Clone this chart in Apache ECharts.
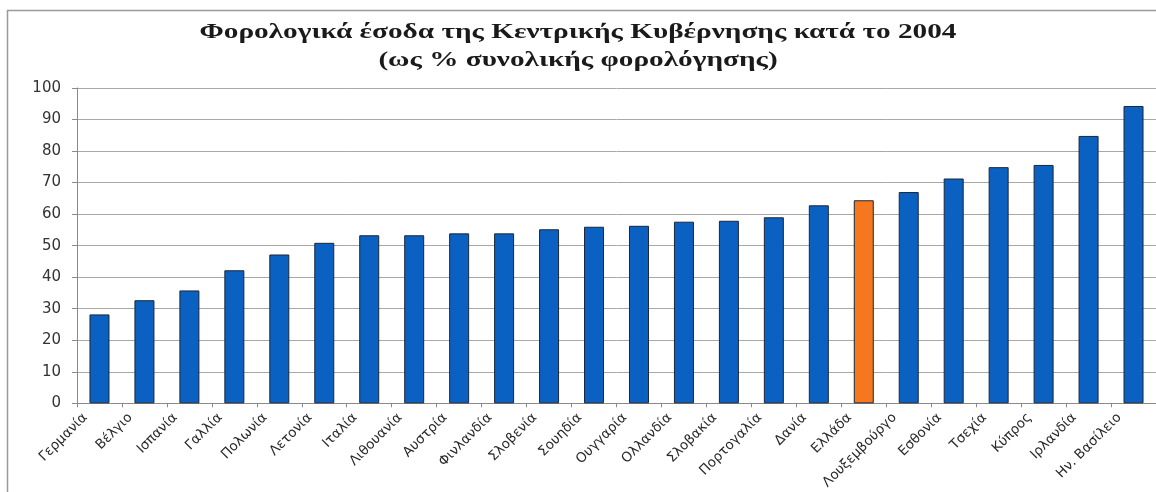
<!DOCTYPE html>
<html>
<head>
<meta charset="utf-8">
<script src="https://cdn.jsdelivr.net/npm/echarts@6/dist/echarts.min.js"></script>
<style>
  html, body { margin: 0; padding: 0; background: #ffffff; }
  #chart { width: 1156px; height: 492px; }
</style>
</head>
<body>
<div id="chart"></div>
<script>
// Central government tax revenue, 2004 (% of total taxation)
const titleLines = [
  'Φορολογικά έσοδα της Κεντρικής Κυβέρνησης κατά το 2004',
  '(ως % συνολικής φορολόγησης)'
];
const categories = [
  'Γερμανία', 'Βέλγιο', 'Ισπανία', 'Γαλλία', 'Πολωνία', 'Λετονία', 'Ιταλία',
  'Λιθουανία', 'Αυστρία', 'Φινλανδία', 'Σλοβενία', 'Σουηδία', 'Ουγγαρία',
  'Ολλανδία', 'Σλοβακία', 'Πορτογαλία', 'Δανία', 'Ελλάδα', 'Λουξεμβούργο',
  'Εσθονία', 'Τσεχία', 'Κύπρος', 'Ιρλανδία', 'Ην. Βασίλειο'
];
const values = [
  28.2, 32.7, 35.8, 42.2, 47.2, 50.9, 53.3,
  53.3, 53.9, 53.9, 55.2, 56.0, 56.3,
  57.6, 57.9, 59.0, 62.8, 64.4, 67.0,
  71.3, 74.9, 75.6, 84.8, 94.3
];
const highlighted = 'Ελλάδα';
const yTicks = { min: 0, max: 100, interval: 10 };

const BLUE = '#0a61c2';
const ORANGE = '#f5781e';
const W = 1156;

const chart = echarts.init(document.getElementById('chart'), null, { renderer: 'canvas' });

const barData = values.map((v, i) => ({
  value: v,
  itemStyle: { color: categories[i] === highlighted ? ORANGE : BLUE }
}));

// Title lines drawn as wide serif text, centred on the page
const titleStyle = {
  fontFamily: 'Liberation Serif',
  fontWeight: 'bold',
  fontSize: 22,
  fill: '#1a1a1a',
  align: 'center',
  verticalAlign: 'middle'
};
const titleGraphics = titleLines.map((line, i) => ({
  type: 'text',
  x: W / 2,
  y: 32 + i * 28,
  scaleX: 1.33,
  style: Object.assign({ text: line }, titleStyle),
  silent: true
}));

chart.setOption({
  backgroundColor: '#ffffff',
  animation: false,
  graphic: [{
    type: 'rect',
    shape: { x: 7.5, y: 10.5, width: 1160, height: 500 },
    style: { fill: 'none', stroke: '#9a9a9a', lineWidth: 1.5 },
    silent: true
  }].concat(titleGraphics),
  grid: { left: 77, top: 88, width: 1080, height: 316, containLabel: false },
  xAxis: {
    type: 'category',
    data: categories,
    axisLine: { lineStyle: { color: '#8a8a8a', width: 1 } },
    axisTick: { show: true, alignWithLabel: false, length: 4, lineStyle: { color: '#8a8a8a' } },
    axisLabel: {
      interval: 0,
      rotate: 45,
      margin: -2,
      padding: [0, 20, 0, 0],
      fontFamily: 'DejaVu Sans',
      fontSize: 13.5,
      color: '#2a2a2a'
    }
  },
  yAxis: {
    type: 'value',
    min: yTicks.min,
    max: yTicks.max,
    interval: yTicks.interval,
    axisLine: { show: true, lineStyle: { color: '#8a8a8a', width: 1 } },
    axisTick: { show: true, length: 5, lineStyle: { color: '#8a8a8a' } },
    axisLabel: {
      margin: 16,
      fontFamily: 'DejaVu Sans',
      fontSize: 15,
      color: '#333333'
    },
    splitLine: { show: true, lineStyle: { color: '#a8a8a8', width: 1 } }
  },
  series: [{
    type: 'bar',
    data: barData,
    barWidth: 20,
    itemStyle: { borderColor: '#1c2638', borderWidth: 1 }
  }]
});
</script>
</body>
</html>
